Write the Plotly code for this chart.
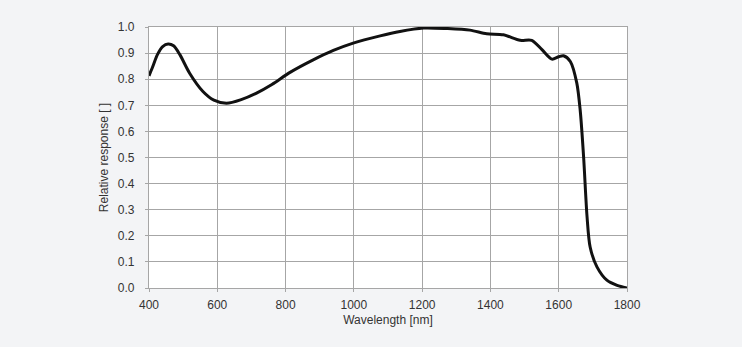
import plotly.graph_objects as go

wavelength = [400, 410, 425, 440, 456, 472, 490, 519, 558, 590, 627, 670, 715, 760, 813, 881, 940, 998, 1077, 1135, 1204, 1272, 1340, 1389, 1438, 1487, 1521, 1551, 1580, 1600, 1614, 1634, 1653, 1663, 1673, 1683, 1692, 1712, 1741, 1771, 1800]
response = [0.813, 0.845, 0.895, 0.925, 0.935, 0.928, 0.895, 0.823, 0.753, 0.72, 0.708, 0.722, 0.747, 0.78, 0.826, 0.874, 0.91, 0.938, 0.966, 0.983, 0.996, 0.994, 0.988, 0.974, 0.970, 0.949, 0.949, 0.913, 0.877, 0.886, 0.890, 0.868, 0.785, 0.68, 0.50, 0.273, 0.157, 0.081, 0.030, 0.010, 0.0]

x_ticks = [400, 600, 800, 1000, 1200, 1400, 1600, 1800]
y_ticks = [0.0, 0.1, 0.2, 0.3, 0.4, 0.5, 0.6, 0.7, 0.8, 0.9, 1.0]

fig = go.Figure()
fig.add_trace(go.Scatter(
    x=wavelength, y=response, mode="lines",
    line=dict(color="#111111", width=3, shape="spline", smoothing=0.8),
    hoverinfo="skip", showlegend=False,
))

grid = "#a6a6a6"
fig.update_layout(
    width=742, height=347,
    margin=dict(l=149, r=115, t=27, b=59),
    paper_bgcolor="#f3f4f6",
    plot_bgcolor="#ffffff",
    font=dict(family="Liberation Sans, Arial, sans-serif", size=12, color="#333333"),
    xaxis=dict(
        range=[400, 1800], tickvals=x_ticks, ticktext=[str(v) for v in x_ticks],
        showgrid=True, gridcolor=grid, gridwidth=1.3,
        showline=True, linecolor=grid, linewidth=1.3, mirror=True,
        ticks="outside", ticklen=3, tickcolor=grid,
        ticklabelstandoff=2,
        zeroline=False,
        title=dict(text="Wavelength [nm]", standoff=5, font=dict(size=12)),
    ),
    yaxis=dict(
        range=[0, 1.0], tickvals=y_ticks, ticktext=[f"{v:.1f}" for v in y_ticks],
        showgrid=True, gridcolor=grid, gridwidth=1.3,
        showline=True, linecolor=grid, linewidth=1.3, mirror=True,
        ticks="outside", ticklen=3, tickcolor=grid,
        ticklabelstandoff=8,
        zeroline=False,
        title=dict(text="Relative response [ ]", standoff=6, font=dict(size=12)),
    ),
)

fig.write_html(
    "out.html",
    config={"displayModeBar": False},
    post_script="document.body.style.margin='0';document.body.style.overflow='hidden';",
)
